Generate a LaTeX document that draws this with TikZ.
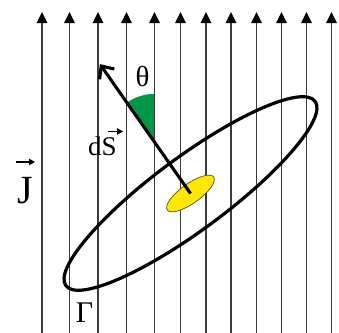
\documentclass[tikz,border=0pt]{standalone}
\usepackage{fontspec}
\setmainfont{Liberation Serif}
\usetikzlibrary{arrows.meta,calc}
\definecolor{wedgegreen}{RGB}{0,152,72}
\definecolor{diskyellow}{RGB}{255,232,0}
\definecolor{diskedge}{RGB}{90,80,20}
\definecolor{fieldgray}{RGB}{60,60,60}
\begin{document}
\begin{tikzpicture}[x=1pt,y=-1pt,
  fieldline/.style={draw=fieldgray,line width=1.3pt,-{Triangle[length=11pt,width=10.5pt,color=black]}},
  bigloop/.style={draw=black,line width=3.2pt},
  disk/.style={fill=diskyellow,draw=diskedge,line width=0.7pt},
  normalarrow/.style={draw=black,line width=3.1pt,-{Straight Barb[length=10pt,width=18pt]}},
  vecarrow/.style={draw=black,line width=1.1pt,-{Triangle[length=6pt,width=6.5pt]}},
  lbl/.style={inner sep=0pt,anchor=base}]
\useasboundingbox (0,0) rectangle (339,332);
% field lines
\foreach \x [count=\i] in {42,69.5,98,126.5,154.5,180.5,206,231,256.5,281.5,306.5,331.5}{
  \coordinate (b\i) at (\x,334);
  \coordinate (t\i) at (\x,12);
  \draw[fieldline] (b\i) -- (t\i);
}
% centre of the surface element and the normal
\coordinate (O) at (190.5,193.5);
\coordinate (tip) at (99.9,64.1);
\coordinate (V) at (154.5,141.9);
% angle wedge
\fill[wedgegreen] (V) -- ++(0,-48) arc[start angle=90,end angle=125,radius=48pt] -- cycle;
\draw[draw=fieldgray,line width=1.3pt] (V) -- ++(0,-48);
% contour Gamma
\draw[bigloop,rotate around={36.5:(O)}] (O) ellipse[x radius=155pt,y radius=36.5pt];
% surface element
\draw[disk,rotate around={35.5:(O)}] (O) ellipse[x radius=28.5pt,y radius=9.8pt];
% normal vector
\draw[normalarrow] (O) -- (tip);
% labels
\node[lbl,font=\fontsize{29}{30}\selectfont] (theta) at (142.5,86.5) {θ};
\node[lbl,anchor=base west,font=\fontsize{27}{29}\selectfont] (dS) at (88,155) {dS};
\coordinate (dSa) at (108,131.5);
\coordinate (dSb) at (123,131.5);
\draw[vecarrow] (dSa) -- (dSb);
\node[lbl,font=\fontsize{40}{42}\selectfont] (J) at (25.5,203) {J};
\coordinate (Ja) at (16,162);
\coordinate (Jb) at (35,162);
\draw[vecarrow] (Ja) -- (Jb);
\node[lbl,font=\fontsize{30}{32}\selectfont] (Gamma) at (84.5,322) {Γ};
\end{tikzpicture}
\end{document}
